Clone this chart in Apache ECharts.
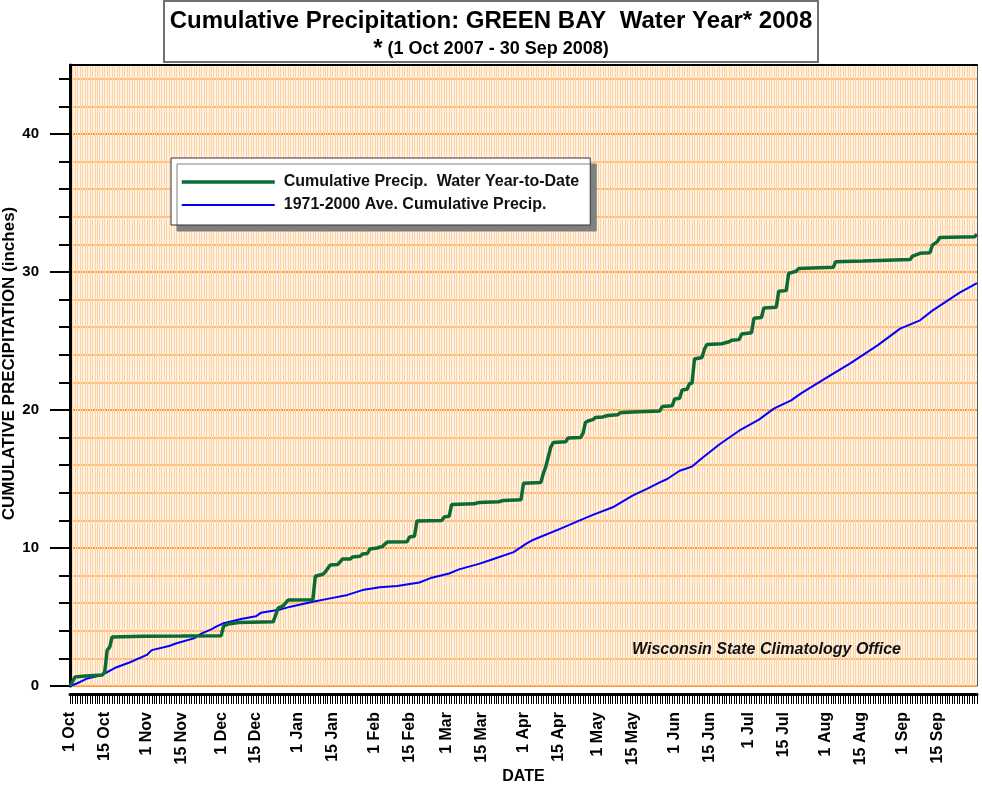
<!DOCTYPE html>
<html>
<head>
<meta charset="utf-8">
<script src="https://cdn.jsdelivr.net/npm/echarts@6/dist/echarts.min.js"></script>
<style>
html,body{margin:0;padding:0;background:#fff;}
#chart{width:982px;height:786px;}
</style>
</head>
<body>
<div id="chart"></div>
<script>
// Day index 0 = 1 Oct 2007, 366 = 1 Oct 2008
const tickDays = [0,14,31,45,61,75,92,106,123,137,152,166,183,197,213,227,244,258,274,288,305,319,336,350];
const tickLabels = ['1 Oct','15 Oct','1 Nov','15 Nov','1 Dec','15 Dec','1 Jan','15 Jan','1 Feb','15 Feb','1 Mar','15 Mar','1 Apr','15 Apr','1 May','15 May','1 Jun','15 Jun','1 Jul','15 Jul','1 Aug','15 Aug','1 Sep','15 Sep'];
const yMajor = [0,10,20,30,40];
const yMinor = [2,4,6,8,12,14,16,18,22,24,26,28,32,34,36,38,42,44];

// Observed cumulative precipitation (day, inches)
const obsDays = [0,2,5,8,13,14,15,16,17,30,45,61,62,64,68,82,84,86,88,98,99,102,103,105,108,110,113,114,117,118,120,121,124,125,126,128,136,137,139,140,150,151,153,154,163,165,173,175,182,183,190,191,192,194,195,200,201,206,207,208,209,211,212,215,217,221,222,227,238,239,243,244,246,247,249,250,251,252,255,256,257,263,266,267,270,271,275,276,279,280,285,286,289,290,293,294,308,309,320,339,340,343,347,348,350,351,365,366];
const obsVals = [0,0.65,0.7,0.75,0.8,1.0,2.6,2.8,3.55,3.6,3.62,3.65,4.35,4.5,4.6,4.65,5.65,5.8,6.23,6.25,7.95,8.1,8.26,8.77,8.8,9.2,9.2,9.35,9.4,9.56,9.6,9.93,10.0,10.07,10.1,10.43,10.45,10.8,10.85,11.96,12.0,12.25,12.3,13.15,13.2,13.3,13.35,13.45,13.5,14.7,14.75,15.4,15.9,17.3,17.65,17.7,17.97,18.0,18.3,19.1,19.2,19.3,19.45,19.5,19.6,19.65,19.8,19.86,19.93,20.25,20.3,20.8,20.85,21.45,21.5,21.9,21.95,23.7,23.8,24.4,24.75,24.8,24.95,25.05,25.1,25.5,25.6,26.65,26.7,27.4,27.45,28.6,28.65,29.9,30.05,30.25,30.35,30.75,30.8,30.9,31.15,31.35,31.4,31.95,32.2,32.5,32.55,32.75];

// 1971-2000 normal cumulative precipitation (day, inches)
const normDays = [0,3,7,13,18,24,31,33,40,43,50,53,57,59,62,69,75,77,85,89,98,105,112,118,125,132,141,146,153,157,165,170,179,184,187,198,205,211,219,227,233,238,241,246,251,255,262,270,278,284,291,295,304,315,326,335,343,348,359,366];
const normVals = [0,0.2,0.55,0.8,1.3,1.7,2.25,2.6,2.9,3.1,3.45,3.8,4.1,4.3,4.55,4.85,5.05,5.3,5.55,5.75,6.1,6.35,6.6,6.95,7.15,7.25,7.5,7.85,8.15,8.45,8.85,9.15,9.7,10.3,10.6,11.4,11.95,12.4,12.95,13.8,14.3,14.75,15.0,15.6,15.9,16.5,17.5,18.5,19.3,20.1,20.7,21.2,22.2,23.4,24.7,25.9,26.5,27.2,28.5,29.2];

const FONT = 'Liberation Sans, Arial, Helvetica, sans-serif';
const labelMap = {};
tickDays.forEach((d, i) => { labelMap[d] = tickLabels[i]; });

const chart = echarts.init(document.getElementById('chart'), null, {renderer: 'canvas'});
const option = {
  animation: false,
  backgroundColor: '#ffffff',
  textStyle: {fontFamily: FONT},
  title: {
    text: 'Cumulative Precipitation: GREEN BAY  Water Year* 2008',
    subtext: '{s|*} (1 Oct 2007 - 30 Sep 2008)',
    left: 'center',
    top: 4,
    itemGap: 4,
    textStyle: {fontFamily: FONT, fontSize: 24, fontWeight: 'bold', color: '#000'},
    subtextStyle: {fontFamily: FONT, fontSize: 18, fontWeight: 'bold', color: '#000',
      rich: {s: {fontFamily: FONT, fontSize: 24, fontWeight: 'bold', color: '#000'}}}
  },
  graphic: [
    {type: 'rect', shape: {x: 164, y: 1, width: 654, height: 61},
     style: {fill: 'none', stroke: '#707070', lineWidth: 2}, z: 100},
    {type: 'text', left: 632, top: 642,
     style: {text: 'Wisconsin State Climatology Office', font: 'italic bold 16px ' + FONT, fill: '#111'}, z: 100}
  ],
  legend: {
    orient: 'vertical',
    left: 171,
    top: 158,
    padding: [16, 11, 12, 9],
    itemWidth: 93,
    itemHeight: 14,
    itemGap: 7,
    backgroundColor: '#ffffff',
    borderColor: '#333333',
    borderWidth: 1,
    shadowColor: '#808080',
    shadowOffsetX: 6,
    shadowOffsetY: 6,
    shadowBlur: 0,
    itemStyle: {opacity: 0},
    textStyle: {fontFamily: FONT, fontSize: 16, fontWeight: 'bold', color: '#111', padding: [0, 0, 0, 4]},
    data: [
      {name: 'Cumulative Precip.  Water Year-to-Date', lineStyle: {width: 3.5, color: '#0b6b35'}},
      {name: '1971-2000 Ave. Cumulative Precip.', lineStyle: {width: 2, color: '#0000ff'}}
    ]
  },
  grid: {
    left: 70, top: 65, right: 5, bottom: 100,
    containLabel: false, outerBoundsMode: 'none',
    show: true, backgroundColor: '#fff3e6', borderWidth: 0
  },
  xAxis: [
    {
      type: 'value', min: 0, max: 366, interval: 1, position: 'bottom', offset: 8,
      name: 'DATE', nameLocation: 'middle', nameGap: 75, nameMoveOverlap: false,
      nameTextStyle: {fontFamily: FONT, fontSize: 16, fontWeight: 'bold', color: '#000'},
      axisLine: {show: true, onZero: false, lineStyle: {color: '#000', width: 3}},
      axisTick: {show: true, length: 10, lineStyle: {color: '#000', width: 1}},
      axisLabel: {
        show: true, customValues: tickDays, rotate: 90, margin: 18,
        fontFamily: FONT, fontSize: 16, fontWeight: 'bold', color: '#000',
        formatter: v => labelMap[v] || ''
      },
      splitLine: {show: true, lineStyle: {color: '#ffd2a4', width: 1}},
      minorTick: {show: false}
    },
    {
      type: 'value', min: 0, max: 366, position: 'top',
      axisLine: {show: true, onZero: false, lineStyle: {color: '#000', width: 2}},
      axisTick: {show: false}, axisLabel: {show: false}, splitLine: {show: false}
    }
  ],
  yAxis: [
    {
      type: 'value', min: 0, max: 45, position: 'left',
      name: 'CUMULATIVE PRECIPITATION (inches)', nameLocation: 'middle', nameGap: 52, nameMoveOverlap: false,
      nameTextStyle: {fontFamily: FONT, fontSize: 17, fontWeight: 'bold', color: '#000', padding: [0, 0, 0, 24]},
      axisLine: {show: true, onZero: false, lineStyle: {color: '#000', width: 3}},
      axisTick: {show: true, customValues: yMajor, length: 20, lineStyle: {color: '#000', width: 2}},
      axisLabel: {show: true, customValues: yMajor, margin: 31,
        fontFamily: FONT, fontSize: 15, fontWeight: 'bold', color: '#000'},
      splitLine: {show: true, lineStyle: {color: '#ff8000', width: 1.5}}
    },
    {
      type: 'value', min: 0, max: 45, position: 'left',
      axisLine: {show: false},
      axisTick: {show: true, customValues: yMinor, length: 11, lineStyle: {color: '#000', width: 2}},
      axisLabel: {show: false},
      splitLine: {show: true, lineStyle: {color: '#ffa64d', width: 1.5}}
    },
    {
      type: 'value', min: 0, max: 45, position: 'right',
      axisLine: {show: true, onZero: false, lineStyle: {color: '#555', width: 1}},
      axisTick: {show: false}, axisLabel: {show: false}, splitLine: {show: false}
    }
  ],
  series: [
    {
      name: 'Cumulative Precip.  Water Year-to-Date',
      type: 'line', xAxisIndex: 0, yAxisIndex: 0, symbol: 'none', z: 5,
      color: '#0b6b35',
      lineStyle: {color: '#0b6b35', width: 3.5},
      data: obsDays.map((d, i) => [d, obsVals[i]])
    },
    {
      name: '1971-2000 Ave. Cumulative Precip.',
      type: 'line', xAxisIndex: 0, yAxisIndex: 0, symbol: 'none', z: 4,
      color: '#0000ff',
      lineStyle: {color: '#0000ff', width: 2},
      data: normDays.map((d, i) => [d, normVals[i]])
    }
  ]
};
chart.setOption(option);
</script>
</body>
</html>
